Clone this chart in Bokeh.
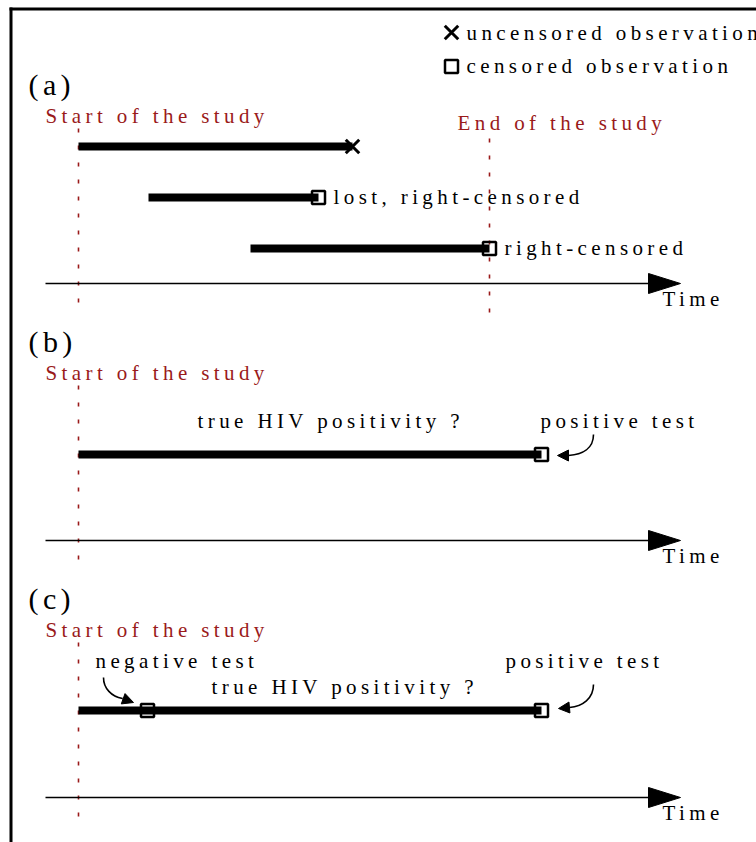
from bokeh.plotting import figure
from bokeh.models import Range1d, Arrow, NormalHead, InlineStyleSheet
from bokeh.core.properties import value
from bokeh.embed import file_html
from bokeh.resources import INLINE

# ---------------- data (time positions on the common time scale) ----------------
study_start = 78
study_end = 489
a_entry = [78, 148, 250]
a_exit = [352, 318, 489]
a_status = ["uncensored", "censored", "censored"]
a_notes = ["", "lost, right-censored", "right-censored"]
b_entry = 78
b_positive = 541
c_entry = 78
c_negative = 147
c_positive = 541
time_min = 45
time_max = 680
panel_names = ["(a)", "(b)", "(c)"]
legend_labels = ["uncensored observation", "censored observation"]

# ---------------- styling ----------------
FONT = value("Liberation Serif")
RED = "#9a1a1a"
W, H = 756, 842

p = figure(width=W, height=H, x_range=Range1d(0, W), y_range=Range1d(H, 0),
           output_backend="svg", toolbar_location=None, min_border=0,
           outline_line_color=None,
           stylesheets=[InlineStyleSheet(css=":host { letter-spacing: 4.4px; }")])
p.axis.visible = False
p.grid.visible = False
p.background_fill_color = "white"
p.border_fill_color = "white"

FS = 21
DY = -7  # baseline correction


def txt(x, y, s, size=FS, color="black", dy=DY):
    p.text(x=[x], y=[y + dy], text=[s], text_font=FONT, text_font_size=f"{size}px",
           text_color=color, text_align="left", text_baseline="alphabetic")


def vdots(x, y0, y1):
    p.line(x=[x, x], y=[y0, y1], line_color=RED, line_width=1.6, line_dash="4 13")


def bar(x0, x1, y):
    p.line(x=[x0, x1], y=[y, y], line_color="black", line_width=8, line_cap="butt")


def sq(x, y):
    p.scatter(x=[x], y=[y], marker="square", size=13, fill_alpha=0,
              line_color="black", line_width=2.5)


def cross(x, y):
    p.scatter(x=[x], y=[y], marker="x", size=19, line_color="black", line_width=3)


def time_axis(y):
    p.line(x=[time_min, time_max - 30], y=[y, y], line_color="black", line_width=1.5)
    p.patch(x=[time_max - 32, time_max, time_max - 32], y=[y - 10, y, y + 10],
            fill_color="black", line_color="black")
    txt(time_max - 18, y + 22, "Time", FS)


def curved_arrow(xs, ys, c0, c1, xe, ye, xt, yt):
    p.bezier(x0=[xs], y0=[ys], x1=[xe], y1=[ye], cx0=[c0[0]], cy0=[c0[1]],
             cx1=[c1[0]], cy1=[c1[1]], line_color="black", line_width=1.6)
    p.add_layout(Arrow(end=NormalHead(size=11, line_color="black", fill_color="black", line_width=1),
                       x_start=xe, y_start=ye, x_end=xt, y_end=yt,
                       line_color="black", line_width=1.6))


# frame (top and left edges visible)
p.line(x=[9, 760], y=[8.5, 8.5], line_color="black", line_width=3)
p.line(x=[10.5, 10.5], y=[7, 850], line_color="black", line_width=3)

# legend
cross(451, 32)
txt(466, 39.5, legend_labels[0])
sq(451, 66)
txt(466, 72.5, legend_labels[1])

offs = [0, 257, 514]

# ---------------- panel (a) ----------------
o = offs[0]
txt(28, 94 + o, panel_names[0], 30, dy=-10)
txt(45, 122.5 + o, "Start of the study", FS, RED)
txt(457, 129 + o, "End of the study", FS, RED)
vdots(study_start, 128 + o, 306 + o)
vdots(study_end, 138 + o, 319 + o)
rows_y = [146, 197, 248]
for x0, x1, st, note, yy in zip(a_entry, a_exit, a_status, a_notes, rows_y):
    bar(x0, x1, yy + o)
    if st == "uncensored":
        cross(x1, yy + o)
    else:
        sq(x1, yy + o)
    if note:
        txt(x1 + 15, yy + 6.5 + o, note)
time_axis(283 + o)

# ---------------- panel (b) ----------------
o = offs[1]
txt(28, 94 + o, panel_names[1], 30, dy=-10)
txt(45, 122.5 + o, "Start of the study", FS, RED)
vdots(study_start, 128 + o, 306 + o)
bar(b_entry, b_positive, 454)
sq(b_positive, 454)
txt(197, 427, "true HIV positivity ?")
txt(540, 427, "positive test")
curved_arrow(593, 434, (593, 448), (582, 454), 568, 455, 557, 455)
time_axis(283 + o)

# ---------------- panel (c) ----------------
o = offs[2]
txt(28, 94 + o, panel_names[2], 30, dy=-10)
txt(45, 122.5 + o, "Start of the study", FS, RED)
vdots(study_start, 128 + o, 306 + o)
bar(c_entry, c_positive, 710)
sq(c_negative, 710)
sq(c_positive, 710)
txt(95, 667, "negative test")
txt(505, 667, "positive test")
txt(211, 693, "true HIV positivity ?")
curved_arrow(103, 677, (103, 688), (111, 696), 122, 698, 133, 702)
curved_arrow(593, 684, (593, 698), (582, 706), 569, 707, 558, 708)
time_axis(283 + o)

open("out.html", "w").write(file_html(p, INLINE))
